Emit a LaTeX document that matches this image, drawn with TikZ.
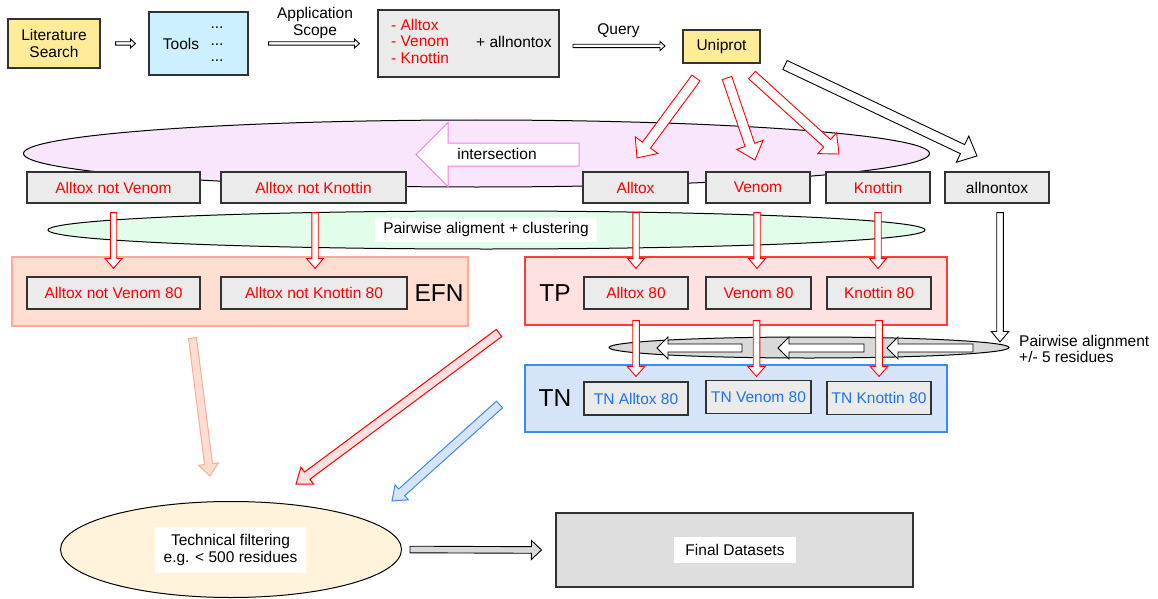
\documentclass[tikz,border=0pt]{standalone}
\usepackage{fontspec}
\setmainfont{Liberation Sans}
\usetikzlibrary{calc,shapes.geometric}
\definecolor{yel}{RGB}{255,236,153}
\definecolor{cyanf}{RGB}{204,240,255}
\definecolor{grayf}{RGB}{235,235,235}
\definecolor{boxline}{RGB}{50,50,50}
\definecolor{pinkf}{RGB}{249,230,252}
\definecolor{pinkline}{RGB}{240,128,230}
\definecolor{greenf}{RGB}{226,253,234}
\definecolor{efnf}{RGB}{255,222,210}
\definecolor{efnline}{RGB}{255,170,150}
\definecolor{tpf}{RGB}{255,225,225}
\definecolor{tpline}{RGB}{255,60,60}
\definecolor{tnf}{RGB}{214,228,250}
\definecolor{tnline}{RGB}{60,140,240}
\definecolor{tntext}{RGB}{30,115,245}
\definecolor{ellgray}{RGB}{217,217,217}
\definecolor{creamf}{RGB}{255,243,220}
\definecolor{finalf}{RGB}{222,222,222}
% style, start, end, shaft half width, head half width, head length
\newcommand{\blockarrow}[6]{%
  \coordinate (ban) at ($(#3)!#6pt!(#2)$);
  \draw[#1] ($(#2)!#4pt!90:(#3)$) -- ($(ban)!#4pt!90:(#3)$) -- ($(ban)!#5pt!90:(#3)$) -- (#3)
    -- ($(ban)!#5pt!-90:(#3)$) -- ($(ban)!#4pt!-90:(#3)$) -- ($(#2)!#4pt!-90:(#3)$) -- cycle;
}
\begin{document}
\begin{tikzpicture}[x=1pt,y=-1pt,
  every node/.style={font=\fontsize{15.5}{16.5}\selectfont, inner sep=0pt},
  box/.style={draw=boxline, fill=grayf, line width=1.1pt, minimum height=31},
  redtxt/.style={text=red},
  bluetxt/.style={text=tntext},
  blackarr/.style={draw=black, fill=white, line width=0.9pt, line join=miter},
  redarr/.style={draw=red, fill=white, line width=0.9pt, line join=miter},
  container/.style={line width=1.1pt},
  bigtxt/.style={font=\fontsize{24.5}{26}\selectfont},
  lbl/.style={fill=white, inner sep=4pt}
]
\useasboundingbox (0,0) rectangle (1158,599);

% ---------- row 1 ----------
\node[box, fill=yel, minimum width=92, minimum height=49, align=center] (lit) at (54,43.5) {Literature\\Search};
\node[box, fill=cyanf, minimum width=99, minimum height=63] (tools) at (198.5,43.5) {};
\node (toolslbl) at (181,44) {Tools};
\node[anchor=base] (d1) at (217,29) {...};
\node[anchor=base] (d2) at (217,45.5) {...};
\node[anchor=base] (d3) at (217,62) {...};
\node[align=center] (appl) at (315,23) {Application\\Scope};
\node[box, minimum width=181, minimum height=67] (lists) at (468.5,43.5) {};
\node[anchor=west, redtxt] (l1) at (391,25) {- Alltox};
\node[anchor=west, redtxt] (l2) at (391,41.5) {- Venom};
\node[anchor=west, redtxt] (l3) at (391,58) {- Knottin};
\node[anchor=west] (plus) at (476,42) {+ allnontox};
\node (query) at (618.5,31) {Query};
\node[box, fill=yel, minimum width=77, minimum height=33] (uni) at (721.5,46.5) {Uniprot};

\coordinate (a1s) at ($(lit.east)+(15,0)$);
\coordinate (a1e) at ($(tools.west)+(-13,0)$);
\blockarrow{blackarr}{a1s}{a1e}{1.7}{4.5}{5}
\coordinate (a2s) at ($(tools.east)+(20,0)$);
\coordinate (a2e) at ($(lists.west)+(-18,0)$);
\blockarrow{blackarr}{a2s}{a2e}{1.7}{4.5}{5}
\coordinate (a3s) at (573,46);
\coordinate (a3e) at (665,46);
\blockarrow{blackarr}{a3s}{a3e}{1.7}{4.5}{5}

% ---------- intersection ellipse ----------
\node[ellipse, draw=black, fill=pinkf, line width=1pt, minimum width=906, minimum height=67] (ell1) at (476.5,153.5) {};
\coordinate (is) at (579,154.5);
\coordinate (ie) at (416,154.5);
\blockarrow{draw=pinkline, fill=white, line width=1pt}{is}{ie}{11.5}{32}{32}
\node (inter) at (497,154) {intersection};

% ---------- uniprot arrows ----------
\coordinate (u1s) at (696,78);  \coordinate (u1e) at (637,158);
\coordinate (u2s) at (727,78);  \coordinate (u2e) at (755,160);
\coordinate (u3s) at (752,75);  \coordinate (u3e) at (839,154);
\coordinate (u4s) at (785,65);  \coordinate (u4e) at (977,156);
\blockarrow{redarr}{u1s}{u1e}{5}{14}{16}
\blockarrow{redarr}{u2s}{u2e}{5}{14}{16}
\blockarrow{redarr}{u3s}{u3e}{5}{14}{16}
\blockarrow{blackarr}{u4s}{u4e}{5}{14.5}{16}

% ---------- row 2 ----------
\node[box, minimum width=173, redtxt] (anv) at (113.5,187.5) {Alltox not Venom};
\node[box, minimum width=185, redtxt] (ank) at (313.5,187.5) {Alltox not Knottin};
\node[box, minimum width=105, redtxt] (at) at (635.5,187.5) {Alltox};
\node[box, minimum width=104, redtxt] (ve) at (758,187.5) {Venom};
\node[box, minimum width=104, redtxt] (kn) at (878,187.5) {Knottin};
\node[box, minimum width=104] (an) at (997,187.5) {allnontox};

% ---------- clustering ellipse ----------
\node[ellipse, draw=black, fill=greenf, line width=1pt, minimum width=877, minimum height=38] (ell2) at (486.5,230) {};
\node[lbl, minimum width=222, minimum height=24] (clus) at (486,229.5) {Pairwise aligment + clustering};

% ---------- row 3 containers ----------
\node[container, draw=efnline, fill=efnf, minimum width=456, minimum height=69] (efn) at (240,291.5) {};
\node[container, draw=tpline, fill=tpf, minimum width=422, minimum height=68] (tp) at (736,291) {};
\node[bigtxt] (efnl) at (439,293) {EFN};
\node[bigtxt] (tpl) at (555,293) {TP};
\node[box, minimum width=173, minimum height=32, redtxt] (anv80) at (113.5,293) {Alltox not Venom 80};
\node[box, minimum width=186, minimum height=32, redtxt] (ank80) at (314,293) {Alltox not Knottin 80};
\node[box, minimum width=104, minimum height=32, redtxt] (at80) at (636,293) {Alltox 80};
\node[box, minimum width=105, minimum height=32, redtxt] (ve80) at (758.5,293) {Venom 80};
\node[box, minimum width=104, minimum height=32, redtxt] (kn80) at (879,293) {Knottin 80};

% row2 -> row3 arrows
\coordinate (v1s) at ($(anv.south)+(0,9)$);  \coordinate (v1e) at ($(anv80.north)+(0,-8)$);
\coordinate (v2s) at ($(ank.south)+(1.5,9)$); \coordinate (v2e) at ($(ank80.north)+(1,-8)$);
\coordinate (v3s) at ($(at.south)+(0.5,9)$);  \coordinate (v3e) at ($(at80.north)+(0,-8)$);
\coordinate (v4s) at ($(ve.south)+(-1,9)$);   \coordinate (v4e) at ($(ve80.north)+(-1.5,-8)$);
\coordinate (v5s) at ($(kn.south)+(0,9)$);    \coordinate (v5e) at ($(kn80.north)+(-1,-8)$);
\blockarrow{redarr}{v1s}{v1e}{3.2}{8.5}{10}
\blockarrow{redarr}{v2s}{v2e}{3.2}{8.5}{10}
\blockarrow{redarr}{v3s}{v3e}{3.2}{8.5}{10}
\blockarrow{redarr}{v4s}{v4e}{3.2}{8.5}{10}
\blockarrow{redarr}{v5s}{v5e}{3.2}{8.5}{10}

% ---------- TN ----------
\node[container, draw=tnline, fill=tnf, minimum width=422, minimum height=67] (tn) at (736,398.5) {};
\node[bigtxt] (tnl) at (555,398) {TN};
\node[box, minimum width=104, minimum height=33, bluetxt] (tnat) at (636,398.5) {TN Alltox 80};
\node[box, minimum width=105, minimum height=33, bluetxt] (tnve) at (758.5,397) {TN Venom 80};
\node[box, minimum width=104, minimum height=33, bluetxt] (tnkn) at (879,398) {TN Knottin 80};

% gray ellipse with left arrows
\node[ellipse, draw=black, fill=ellgray, line width=1pt, minimum width=400, minimum height=21] (ell3) at (809,347.5) {};
\coordinate (w1s) at (742,348); \coordinate (w1e) at (657,348);
\coordinate (w2s) at (864,348); \coordinate (w2e) at (778,348);
\coordinate (w3s) at (973,348); \coordinate (w3e) at (887,348);
\blockarrow{blackarr}{w1s}{w1e}{4}{11}{11}
\blockarrow{blackarr}{w2s}{w2e}{4}{11}{11}
\blockarrow{blackarr}{w3s}{w3e}{4}{11}{11}
\node[anchor=west, align=left] (pwa) at (1019,349) {Pairwise alignment\\+/- 5 residues};

% allnontox arrow
\coordinate (nas) at ($(an.south)+(3,9)$);
\coordinate (nae) at (1000,342);
\blockarrow{blackarr}{nas}{nae}{3.3}{8.8}{10.5}

% TP -> TN arrows
\coordinate (t1s) at ($(at80.south)+(0,11)$); \coordinate (t1e) at ($(tnat.north)+(0,-5)$);
\coordinate (t2s) at ($(ve80.south)+(-2,11)$); \coordinate (t2e) at ($(tnve.north)+(-2,-3.5)$);
\coordinate (t3s) at ($(kn80.south)+(0,11)$); \coordinate (t3e) at ($(tnkn.north)+(0,-4.5)$);
\blockarrow{redarr}{t1s}{t1e}{3.3}{8.8}{10}
\blockarrow{redarr}{t2s}{t2e}{3.3}{8.8}{10}
\blockarrow{redarr}{t3s}{t3e}{3.3}{8.8}{10}

% ---------- bottom ----------
\node[ellipse, draw=black, fill=creamf, line width=1pt, minimum width=341, minimum height=96] (tech) at (231,549.5) {};
\node[lbl, minimum width=151, minimum height=46, align=center] (techl) at (230.5,550) {Technical filtering\\e.g. < 500 residues};
\node[box, fill=finalf, minimum width=357, minimum height=74] (final) at (734.5,550) {};
\node[lbl, minimum width=122, minimum height=26] (finall) at (735,550) {Final Datasets};

\coordinate (p1s) at (192.5,338); \coordinate (p1e) at (210,476);
\coordinate (p2s) at (499,333);   \coordinate (p2e) at (296,484);
\coordinate (p3s) at (499.5,404.5); \coordinate (p3e) at (392,501);
\blockarrow{draw=efnline, fill=efnf, line width=1pt}{p1s}{p1e}{4}{10}{12}
\blockarrow{draw=red, fill=tpf, line width=1pt}{p2s}{p2e}{4.5}{10.5}{14}
\blockarrow{draw=tnline, fill=tnf, line width=1pt}{p3s}{p3e}{4.5}{10}{13}

\coordinate (gs) at ($(tech.east)+(8,0)$);
\coordinate (ge) at ($(final.west)+(-14,0)$);
\blockarrow{draw=black, fill=ellgray, line width=0.9pt}{gs}{ge}{3.3}{9.5}{10}
\end{tikzpicture}
\end{document}
